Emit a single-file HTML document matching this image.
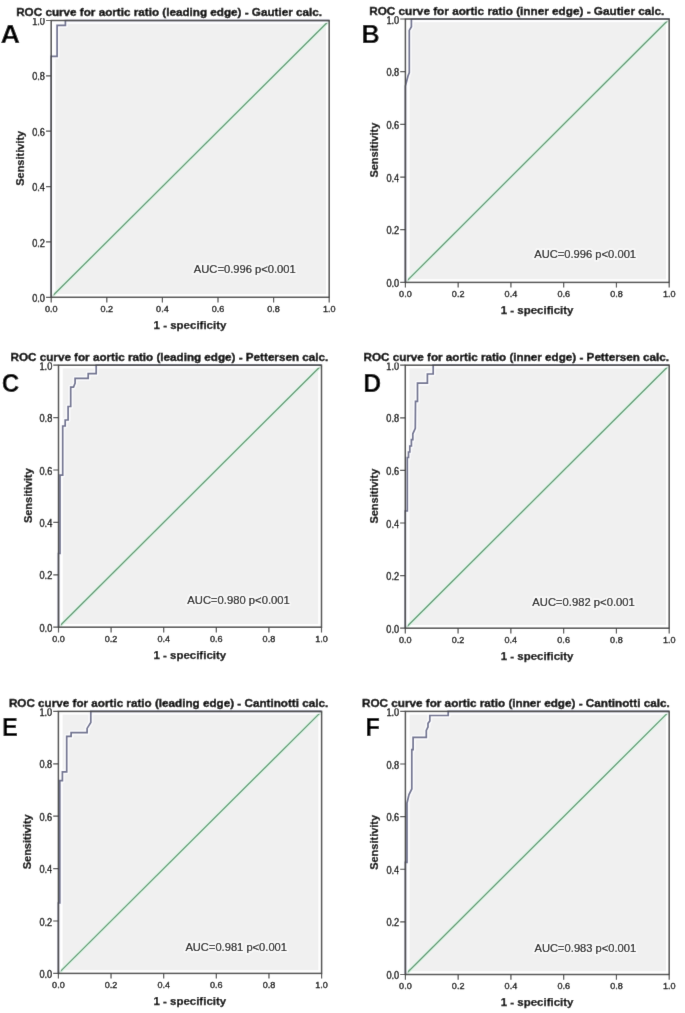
<!DOCTYPE html>
<html><head><meta charset="utf-8"><title>ROC curves</title>
<style>
html,body{margin:0;padding:0;background:#fff;}
body{width:685px;height:1013px;overflow:hidden;}
svg{display:block;font-family:"Liberation Sans", sans-serif;}
</style></head>
<body>
<svg width="685" height="1013" viewBox="0 0 685 1013" font-family='"Liberation Sans", sans-serif'>
<defs><filter id="soft" x="0" y="0" width="685" height="1013" filterUnits="userSpaceOnUse"><feConvolveMatrix order="3" kernelMatrix="0.00524 0.06192 0.00524 0.06192 0.73137 0.06192 0.00524 0.06192 0.00524" edgeMode="duplicate" preserveAlpha="true"/></filter></defs>
<g filter="url(#soft)">
<rect width="685" height="1013" fill="#fff"/>
<g>
<rect x="55.40" y="23.70" width="270.60" height="270.40" fill="#f0f0f0"/>
<line x1="51.20" y1="297.30" x2="329.20" y2="20.50" stroke="#dcf7e6" stroke-width="3.4"/>
<line x1="51.20" y1="297.30" x2="329.20" y2="20.50" stroke="#5e9470" stroke-width="1.25"/>
<polyline points="51.20,297.30 51.20,56.40 57.10,56.40 57.10,25.40 65.40,25.40 65.40,20.50 329.20,20.50" fill="none" stroke="#fbfbfe" stroke-width="5" stroke-linejoin="round" opacity="0.8"/>
<polyline points="51.20,297.30 51.20,56.40 57.10,56.40 57.10,25.40 65.40,25.40 65.40,20.50 329.20,20.50" fill="none" stroke="#6f7290" stroke-width="1.7" stroke-linejoin="miter"/>
<rect x="51.20" y="20.50" width="278.00" height="276.80" fill="none" stroke="#484848" stroke-width="1.5"/>
<path d="M46.00 297.30H51.20 M51.20 297.30V302.50 M46.00 241.94H51.20 M106.80 297.30V302.50 M46.00 186.58H51.20 M162.40 297.30V302.50 M46.00 131.22H51.20 M218.00 297.30V302.50 M46.00 75.86H51.20 M273.60 297.30V302.50 M46.00 20.50H51.20 M329.20 297.30V302.50" stroke="#484848" stroke-width="1.2" fill="none"/>
<g font-size="10" fill="#000" stroke="#000" stroke-width="0.35"><text x="45.00" y="301.90" text-anchor="end" textLength="12.8" lengthAdjust="spacingAndGlyphs">0.0</text><text x="44.90" y="312.00" font-size="9.4" stroke-width="0.35" textLength="12.6" lengthAdjust="spacingAndGlyphs">0.0</text><text x="45.00" y="246.54" text-anchor="end" textLength="12.8" lengthAdjust="spacingAndGlyphs">0.2</text><text x="100.50" y="312.00" font-size="9.4" stroke-width="0.35" textLength="12.6" lengthAdjust="spacingAndGlyphs">0.2</text><text x="45.00" y="191.18" text-anchor="end" textLength="12.8" lengthAdjust="spacingAndGlyphs">0.4</text><text x="156.10" y="312.00" font-size="9.4" stroke-width="0.35" textLength="12.6" lengthAdjust="spacingAndGlyphs">0.4</text><text x="45.00" y="135.82" text-anchor="end" textLength="12.8" lengthAdjust="spacingAndGlyphs">0.6</text><text x="211.70" y="312.00" font-size="9.4" stroke-width="0.35" textLength="12.6" lengthAdjust="spacingAndGlyphs">0.6</text><text x="45.00" y="80.46" text-anchor="end" textLength="12.8" lengthAdjust="spacingAndGlyphs">0.8</text><text x="267.30" y="312.00" font-size="9.4" stroke-width="0.35" textLength="12.6" lengthAdjust="spacingAndGlyphs">0.8</text><text x="45.00" y="25.10" text-anchor="end" textLength="12.8" lengthAdjust="spacingAndGlyphs">1.0</text><text x="322.90" y="312.00" font-size="9.4" stroke-width="0.35" textLength="12.6" lengthAdjust="spacingAndGlyphs">1.0</text></g>
<text x="153.60" y="328.60" font-size="11" font-weight="bold" stroke="#000" stroke-width="0.25" textLength="72.8" lengthAdjust="spacingAndGlyphs" fill="#000">1 - specificity</text>
<text transform="translate(24.20,185.80) rotate(-90)" x="0" y="0" font-size="11" font-weight="bold" stroke="#000" stroke-width="0.25" textLength="55" lengthAdjust="spacingAndGlyphs" fill="#000">Sensitivity</text>
<text x="193.80" y="273.10" font-size="11" textLength="101.90" lengthAdjust="spacingAndGlyphs" fill="#fbfbfb" stroke="#fbfbfb" stroke-width="4" stroke-linejoin="round" opacity="0.7">AUC=0.996 p&lt;0.001</text>
<text x="193.80" y="273.10" font-size="11" textLength="101.90" lengthAdjust="spacingAndGlyphs" fill="#000" stroke="#000" stroke-width="0.15">AUC=0.996 p&lt;0.001</text>
<rect x="15.00" y="6.40" width="309.00" height="11.60" fill="#fff"/>
<text x="16.20" y="16.40" font-size="11.2" font-weight="bold" stroke="#000" stroke-width="0.38" textLength="305.80" lengthAdjust="spacingAndGlyphs" fill="#000">ROC curve for aortic ratio (leading edge) - Gautier calc.</text>
<text transform="translate(0.42,42.80) scale(1.0311,1)" x="0" y="0" font-size="26.31" font-weight="bold" fill="#000">A</text>
</g>
<g>
<rect x="409.60" y="22.20" width="256.40" height="257.00" fill="#f0f0f0"/>
<line x1="405.40" y1="282.40" x2="669.20" y2="19.00" stroke="#dcf7e6" stroke-width="3.4"/>
<line x1="405.40" y1="282.40" x2="669.20" y2="19.00" stroke="#5e9470" stroke-width="1.25"/>
<polyline points="405.40,282.40 405.40,86.00 408.00,76.00 409.30,72.50 409.30,30.40 411.40,26.80 411.40,19.00 669.20,19.00" fill="none" stroke="#fbfbfe" stroke-width="5" stroke-linejoin="round" opacity="0.8"/>
<polyline points="405.40,282.40 405.40,86.00 408.00,76.00 409.30,72.50 409.30,30.40 411.40,26.80 411.40,19.00 669.20,19.00" fill="none" stroke="#6f7290" stroke-width="1.7" stroke-linejoin="miter"/>
<rect x="405.40" y="19.00" width="263.80" height="263.40" fill="none" stroke="#484848" stroke-width="1.5"/>
<path d="M400.20 282.40H405.40 M405.40 282.40V287.60 M400.20 229.72H405.40 M458.16 282.40V287.60 M400.20 177.04H405.40 M510.92 282.40V287.60 M400.20 124.36H405.40 M563.68 282.40V287.60 M400.20 71.68H405.40 M616.44 282.40V287.60 M400.20 19.00H405.40 M669.20 282.40V287.60" stroke="#484848" stroke-width="1.2" fill="none"/>
<g font-size="10" fill="#000" stroke="#000" stroke-width="0.35"><text x="399.20" y="287.00" text-anchor="end" textLength="12.8" lengthAdjust="spacingAndGlyphs">0.0</text><text x="399.10" y="297.10" font-size="9.4" stroke-width="0.35" textLength="12.6" lengthAdjust="spacingAndGlyphs">0.0</text><text x="399.20" y="234.32" text-anchor="end" textLength="12.8" lengthAdjust="spacingAndGlyphs">0.2</text><text x="451.86" y="297.10" font-size="9.4" stroke-width="0.35" textLength="12.6" lengthAdjust="spacingAndGlyphs">0.2</text><text x="399.20" y="181.64" text-anchor="end" textLength="12.8" lengthAdjust="spacingAndGlyphs">0.4</text><text x="504.62" y="297.10" font-size="9.4" stroke-width="0.35" textLength="12.6" lengthAdjust="spacingAndGlyphs">0.4</text><text x="399.20" y="128.96" text-anchor="end" textLength="12.8" lengthAdjust="spacingAndGlyphs">0.6</text><text x="557.38" y="297.10" font-size="9.4" stroke-width="0.35" textLength="12.6" lengthAdjust="spacingAndGlyphs">0.6</text><text x="399.20" y="76.28" text-anchor="end" textLength="12.8" lengthAdjust="spacingAndGlyphs">0.8</text><text x="610.14" y="297.10" font-size="9.4" stroke-width="0.35" textLength="12.6" lengthAdjust="spacingAndGlyphs">0.8</text><text x="399.20" y="23.60" text-anchor="end" textLength="12.8" lengthAdjust="spacingAndGlyphs">1.0</text><text x="662.90" y="297.10" font-size="9.4" stroke-width="0.35" textLength="12.6" lengthAdjust="spacingAndGlyphs">1.0</text></g>
<text x="500.70" y="313.70" font-size="11" font-weight="bold" stroke="#000" stroke-width="0.25" textLength="72.8" lengthAdjust="spacingAndGlyphs" fill="#000">1 - specificity</text>
<text transform="translate(378.40,177.60) rotate(-90)" x="0" y="0" font-size="11" font-weight="bold" stroke="#000" stroke-width="0.25" textLength="55" lengthAdjust="spacingAndGlyphs" fill="#000">Sensitivity</text>
<text x="534.20" y="257.50" font-size="11" textLength="101.90" lengthAdjust="spacingAndGlyphs" fill="#fbfbfb" stroke="#fbfbfb" stroke-width="4" stroke-linejoin="round" opacity="0.7">AUC=0.996 p&lt;0.001</text>
<text x="534.20" y="257.50" font-size="11" textLength="101.90" lengthAdjust="spacingAndGlyphs" fill="#000" stroke="#000" stroke-width="0.15">AUC=0.996 p&lt;0.001</text>
<rect x="368.00" y="4.60" width="298.40" height="11.60" fill="#fff"/>
<text x="369.20" y="14.60" font-size="11.2" font-weight="bold" stroke="#000" stroke-width="0.38" textLength="295.20" lengthAdjust="spacingAndGlyphs" fill="#000">ROC curve for aortic ratio (inner edge) - Gautier calc.</text>
<text transform="translate(361.51,42.80) scale(0.9652,1)" x="0" y="0" font-size="26.16" font-weight="bold" fill="#000">B</text>
</g>
<g>
<rect x="62.70" y="368.40" width="255.60" height="255.60" fill="#f0f0f0"/>
<line x1="58.50" y1="627.20" x2="321.50" y2="365.20" stroke="#dcf7e6" stroke-width="3.4"/>
<line x1="58.50" y1="627.20" x2="321.50" y2="365.20" stroke="#5e9470" stroke-width="1.25"/>
<polyline points="58.50,627.20 58.50,553.50 60.00,553.50 60.00,475.20 62.70,475.20 62.70,426.00 65.20,426.00 65.20,420.00 68.10,420.00 68.10,406.50 70.70,406.50 70.70,387.20 73.50,387.20 75.10,383.00 75.10,378.40 88.20,378.40 88.20,373.70 96.20,373.70 96.20,365.20 321.50,365.20" fill="none" stroke="#fbfbfe" stroke-width="5" stroke-linejoin="round" opacity="0.8"/>
<polyline points="58.50,627.20 58.50,553.50 60.00,553.50 60.00,475.20 62.70,475.20 62.70,426.00 65.20,426.00 65.20,420.00 68.10,420.00 68.10,406.50 70.70,406.50 70.70,387.20 73.50,387.20 75.10,383.00 75.10,378.40 88.20,378.40 88.20,373.70 96.20,373.70 96.20,365.20 321.50,365.20" fill="none" stroke="#6f7290" stroke-width="1.7" stroke-linejoin="miter"/>
<rect x="58.50" y="365.20" width="263.00" height="262.00" fill="none" stroke="#484848" stroke-width="1.5"/>
<path d="M53.30 627.20H58.50 M58.50 627.20V632.40 M53.30 574.80H58.50 M111.10 627.20V632.40 M53.30 522.40H58.50 M163.70 627.20V632.40 M53.30 470.00H58.50 M216.30 627.20V632.40 M53.30 417.60H58.50 M268.90 627.20V632.40 M53.30 365.20H58.50 M321.50 627.20V632.40" stroke="#484848" stroke-width="1.2" fill="none"/>
<g font-size="10" fill="#000" stroke="#000" stroke-width="0.35"><text x="52.30" y="631.80" text-anchor="end" textLength="12.8" lengthAdjust="spacingAndGlyphs">0.0</text><text x="52.20" y="641.90" font-size="9.4" stroke-width="0.35" textLength="12.6" lengthAdjust="spacingAndGlyphs">0.0</text><text x="52.30" y="579.40" text-anchor="end" textLength="12.8" lengthAdjust="spacingAndGlyphs">0.2</text><text x="104.80" y="641.90" font-size="9.4" stroke-width="0.35" textLength="12.6" lengthAdjust="spacingAndGlyphs">0.2</text><text x="52.30" y="527.00" text-anchor="end" textLength="12.8" lengthAdjust="spacingAndGlyphs">0.4</text><text x="157.40" y="641.90" font-size="9.4" stroke-width="0.35" textLength="12.6" lengthAdjust="spacingAndGlyphs">0.4</text><text x="52.30" y="474.60" text-anchor="end" textLength="12.8" lengthAdjust="spacingAndGlyphs">0.6</text><text x="210.00" y="641.90" font-size="9.4" stroke-width="0.35" textLength="12.6" lengthAdjust="spacingAndGlyphs">0.6</text><text x="52.30" y="422.20" text-anchor="end" textLength="12.8" lengthAdjust="spacingAndGlyphs">0.8</text><text x="262.60" y="641.90" font-size="9.4" stroke-width="0.35" textLength="12.6" lengthAdjust="spacingAndGlyphs">0.8</text><text x="52.30" y="369.80" text-anchor="end" textLength="12.8" lengthAdjust="spacingAndGlyphs">1.0</text><text x="315.20" y="641.90" font-size="9.4" stroke-width="0.35" textLength="12.6" lengthAdjust="spacingAndGlyphs">1.0</text></g>
<text x="153.40" y="658.50" font-size="11" font-weight="bold" stroke="#000" stroke-width="0.25" textLength="72.8" lengthAdjust="spacingAndGlyphs" fill="#000">1 - specificity</text>
<text transform="translate(31.50,523.10) rotate(-90)" x="0" y="0" font-size="11" font-weight="bold" stroke="#000" stroke-width="0.25" textLength="55" lengthAdjust="spacingAndGlyphs" fill="#000">Sensitivity</text>
<text x="187.30" y="603.50" font-size="11" textLength="102.50" lengthAdjust="spacingAndGlyphs" fill="#fbfbfb" stroke="#fbfbfb" stroke-width="4" stroke-linejoin="round" opacity="0.7">AUC=0.980 p&lt;0.001</text>
<text x="187.30" y="603.50" font-size="11" textLength="102.50" lengthAdjust="spacingAndGlyphs" fill="#000" stroke="#000" stroke-width="0.15">AUC=0.980 p&lt;0.001</text>
<rect x="9.40" y="350.80" width="320.80" height="11.60" fill="#fff"/>
<text x="10.60" y="360.80" font-size="11.2" font-weight="bold" stroke="#000" stroke-width="0.38" textLength="317.60" lengthAdjust="spacingAndGlyphs" fill="#000">ROC curve for aortic ratio (leading edge) - Pettersen calc.</text>
<text transform="translate(1.85,391.74) scale(0.9212,1)" x="0" y="0" font-size="26.48" font-weight="bold" fill="#000">C</text>
</g>
<g>
<rect x="409.50" y="368.40" width="256.50" height="256.60" fill="#f0f0f0"/>
<line x1="405.30" y1="628.20" x2="669.20" y2="365.20" stroke="#dcf7e6" stroke-width="3.4"/>
<line x1="405.30" y1="628.20" x2="669.20" y2="365.20" stroke="#5e9470" stroke-width="1.25"/>
<polyline points="405.30,628.20 405.30,511.00 407.30,511.00 407.30,457.50 408.50,457.50 408.50,452.00 409.80,452.00 409.80,446.00 411.40,446.00 411.40,439.70 412.80,439.70 412.80,433.80 415.30,428.40 415.50,401.40 417.50,401.40 417.50,383.20 427.40,383.20 427.40,374.00 433.20,374.00 433.20,365.20 669.20,365.20" fill="none" stroke="#fbfbfe" stroke-width="5" stroke-linejoin="round" opacity="0.8"/>
<polyline points="405.30,628.20 405.30,511.00 407.30,511.00 407.30,457.50 408.50,457.50 408.50,452.00 409.80,452.00 409.80,446.00 411.40,446.00 411.40,439.70 412.80,439.70 412.80,433.80 415.30,428.40 415.50,401.40 417.50,401.40 417.50,383.20 427.40,383.20 427.40,374.00 433.20,374.00 433.20,365.20 669.20,365.20" fill="none" stroke="#6f7290" stroke-width="1.7" stroke-linejoin="miter"/>
<rect x="405.30" y="365.20" width="263.90" height="263.00" fill="none" stroke="#484848" stroke-width="1.5"/>
<path d="M400.10 628.20H405.30 M405.30 628.20V633.40 M400.10 575.60H405.30 M458.08 628.20V633.40 M400.10 523.00H405.30 M510.86 628.20V633.40 M400.10 470.40H405.30 M563.64 628.20V633.40 M400.10 417.80H405.30 M616.42 628.20V633.40 M400.10 365.20H405.30 M669.20 628.20V633.40" stroke="#484848" stroke-width="1.2" fill="none"/>
<g font-size="10" fill="#000" stroke="#000" stroke-width="0.35"><text x="399.10" y="632.80" text-anchor="end" textLength="12.8" lengthAdjust="spacingAndGlyphs">0.0</text><text x="399.00" y="642.90" font-size="9.4" stroke-width="0.35" textLength="12.6" lengthAdjust="spacingAndGlyphs">0.0</text><text x="399.10" y="580.20" text-anchor="end" textLength="12.8" lengthAdjust="spacingAndGlyphs">0.2</text><text x="451.78" y="642.90" font-size="9.4" stroke-width="0.35" textLength="12.6" lengthAdjust="spacingAndGlyphs">0.2</text><text x="399.10" y="527.60" text-anchor="end" textLength="12.8" lengthAdjust="spacingAndGlyphs">0.4</text><text x="504.56" y="642.90" font-size="9.4" stroke-width="0.35" textLength="12.6" lengthAdjust="spacingAndGlyphs">0.4</text><text x="399.10" y="475.00" text-anchor="end" textLength="12.8" lengthAdjust="spacingAndGlyphs">0.6</text><text x="557.34" y="642.90" font-size="9.4" stroke-width="0.35" textLength="12.6" lengthAdjust="spacingAndGlyphs">0.6</text><text x="399.10" y="422.40" text-anchor="end" textLength="12.8" lengthAdjust="spacingAndGlyphs">0.8</text><text x="610.12" y="642.90" font-size="9.4" stroke-width="0.35" textLength="12.6" lengthAdjust="spacingAndGlyphs">0.8</text><text x="399.10" y="369.80" text-anchor="end" textLength="12.8" lengthAdjust="spacingAndGlyphs">1.0</text><text x="662.90" y="642.90" font-size="9.4" stroke-width="0.35" textLength="12.6" lengthAdjust="spacingAndGlyphs">1.0</text></g>
<text x="500.65" y="659.50" font-size="11" font-weight="bold" stroke="#000" stroke-width="0.25" textLength="72.8" lengthAdjust="spacingAndGlyphs" fill="#000">1 - specificity</text>
<text transform="translate(378.30,523.60) rotate(-90)" x="0" y="0" font-size="11" font-weight="bold" stroke="#000" stroke-width="0.25" textLength="55" lengthAdjust="spacingAndGlyphs" fill="#000">Sensitivity</text>
<text x="532.30" y="605.80" font-size="11" textLength="102.50" lengthAdjust="spacingAndGlyphs" fill="#fbfbfb" stroke="#fbfbfb" stroke-width="4" stroke-linejoin="round" opacity="0.7">AUC=0.982 p&lt;0.001</text>
<text x="532.30" y="605.80" font-size="11" textLength="102.50" lengthAdjust="spacingAndGlyphs" fill="#000" stroke="#000" stroke-width="0.15">AUC=0.982 p&lt;0.001</text>
<rect x="362.30" y="351.00" width="308.70" height="11.60" fill="#fff"/>
<text x="363.50" y="361.00" font-size="11.2" font-weight="bold" stroke="#000" stroke-width="0.38" textLength="305.50" lengthAdjust="spacingAndGlyphs" fill="#000">ROC curve for aortic ratio (inner edge) - Pettersen calc.</text>
<text transform="translate(363.33,391.90) scale(0.9535,1)" x="0" y="0" font-size="26.16" font-weight="bold" fill="#000">D</text>
</g>
<g>
<rect x="62.60" y="714.60" width="255.80" height="255.60" fill="#f0f0f0"/>
<line x1="58.40" y1="973.40" x2="321.60" y2="711.40" stroke="#dcf7e6" stroke-width="3.4"/>
<line x1="58.40" y1="973.40" x2="321.60" y2="711.40" stroke="#5e9470" stroke-width="1.25"/>
<polyline points="58.40,973.40 58.40,903.00 59.80,903.00 59.80,780.70 62.40,780.70 62.40,771.80 66.70,771.80 66.70,736.40 71.10,736.40 71.10,732.70 87.10,732.70 87.10,728.40 90.80,722.50 90.80,711.40 321.60,711.40" fill="none" stroke="#fbfbfe" stroke-width="5" stroke-linejoin="round" opacity="0.8"/>
<polyline points="58.40,973.40 58.40,903.00 59.80,903.00 59.80,780.70 62.40,780.70 62.40,771.80 66.70,771.80 66.70,736.40 71.10,736.40 71.10,732.70 87.10,732.70 87.10,728.40 90.80,722.50 90.80,711.40 321.60,711.40" fill="none" stroke="#6f7290" stroke-width="1.7" stroke-linejoin="miter"/>
<rect x="58.40" y="711.40" width="263.20" height="262.00" fill="none" stroke="#484848" stroke-width="1.5"/>
<path d="M53.20 973.40H58.40 M58.40 973.40V978.60 M53.20 921.00H58.40 M111.04 973.40V978.60 M53.20 868.60H58.40 M163.68 973.40V978.60 M53.20 816.20H58.40 M216.32 973.40V978.60 M53.20 763.80H58.40 M268.96 973.40V978.60 M53.20 711.40H58.40 M321.60 973.40V978.60" stroke="#484848" stroke-width="1.2" fill="none"/>
<g font-size="10" fill="#000" stroke="#000" stroke-width="0.35"><text x="52.20" y="978.00" text-anchor="end" textLength="12.8" lengthAdjust="spacingAndGlyphs">0.0</text><text x="52.10" y="988.10" font-size="9.4" stroke-width="0.35" textLength="12.6" lengthAdjust="spacingAndGlyphs">0.0</text><text x="52.20" y="925.60" text-anchor="end" textLength="12.8" lengthAdjust="spacingAndGlyphs">0.2</text><text x="104.74" y="988.10" font-size="9.4" stroke-width="0.35" textLength="12.6" lengthAdjust="spacingAndGlyphs">0.2</text><text x="52.20" y="873.20" text-anchor="end" textLength="12.8" lengthAdjust="spacingAndGlyphs">0.4</text><text x="157.38" y="988.10" font-size="9.4" stroke-width="0.35" textLength="12.6" lengthAdjust="spacingAndGlyphs">0.4</text><text x="52.20" y="820.80" text-anchor="end" textLength="12.8" lengthAdjust="spacingAndGlyphs">0.6</text><text x="210.02" y="988.10" font-size="9.4" stroke-width="0.35" textLength="12.6" lengthAdjust="spacingAndGlyphs">0.6</text><text x="52.20" y="768.40" text-anchor="end" textLength="12.8" lengthAdjust="spacingAndGlyphs">0.8</text><text x="262.66" y="988.10" font-size="9.4" stroke-width="0.35" textLength="12.6" lengthAdjust="spacingAndGlyphs">0.8</text><text x="52.20" y="716.00" text-anchor="end" textLength="12.8" lengthAdjust="spacingAndGlyphs">1.0</text><text x="315.30" y="988.10" font-size="9.4" stroke-width="0.35" textLength="12.6" lengthAdjust="spacingAndGlyphs">1.0</text></g>
<text x="153.40" y="1004.70" font-size="11" font-weight="bold" stroke="#000" stroke-width="0.25" textLength="72.8" lengthAdjust="spacingAndGlyphs" fill="#000">1 - specificity</text>
<text transform="translate(31.40,869.30) rotate(-90)" x="0" y="0" font-size="11" font-weight="bold" stroke="#000" stroke-width="0.25" textLength="55" lengthAdjust="spacingAndGlyphs" fill="#000">Sensitivity</text>
<text x="185.40" y="951.30" font-size="11" textLength="101.60" lengthAdjust="spacingAndGlyphs" fill="#fbfbfb" stroke="#fbfbfb" stroke-width="4" stroke-linejoin="round" opacity="0.7">AUC=0.981 p&lt;0.001</text>
<text x="185.40" y="951.30" font-size="11" textLength="101.60" lengthAdjust="spacingAndGlyphs" fill="#000" stroke="#000" stroke-width="0.15">AUC=0.981 p&lt;0.001</text>
<rect x="7.70" y="696.80" width="322.50" height="11.60" fill="#fff"/>
<text x="8.90" y="706.80" font-size="11.2" font-weight="bold" stroke="#000" stroke-width="0.38" textLength="319.30" lengthAdjust="spacingAndGlyphs" fill="#000">ROC curve for aortic ratio (leading edge) - Cantinotti calc.</text>
<text transform="translate(2.00,736.00) scale(0.9180,1)" x="0" y="0" font-size="26.02" font-weight="bold" fill="#000">E</text>
</g>
<g>
<rect x="409.60" y="714.60" width="256.40" height="256.70" fill="#f0f0f0"/>
<line x1="405.40" y1="974.50" x2="669.20" y2="711.40" stroke="#dcf7e6" stroke-width="3.4"/>
<line x1="405.40" y1="974.50" x2="669.20" y2="711.40" stroke="#5e9470" stroke-width="1.25"/>
<polyline points="405.40,974.50 405.40,862.30 407.00,862.30 407.00,803.00 409.00,794.60 411.80,789.00 411.80,749.70 413.10,749.70 413.10,737.40 426.30,737.40 426.30,730.40 428.00,727.00 428.00,723.40 429.80,721.00 429.80,715.50 448.20,715.50 448.20,711.40 669.20,711.40" fill="none" stroke="#fbfbfe" stroke-width="5" stroke-linejoin="round" opacity="0.8"/>
<polyline points="405.40,974.50 405.40,862.30 407.00,862.30 407.00,803.00 409.00,794.60 411.80,789.00 411.80,749.70 413.10,749.70 413.10,737.40 426.30,737.40 426.30,730.40 428.00,727.00 428.00,723.40 429.80,721.00 429.80,715.50 448.20,715.50 448.20,711.40 669.20,711.40" fill="none" stroke="#6f7290" stroke-width="1.7" stroke-linejoin="miter"/>
<rect x="405.40" y="711.40" width="263.80" height="263.10" fill="none" stroke="#484848" stroke-width="1.5"/>
<path d="M400.20 974.50H405.40 M405.40 974.50V979.70 M400.20 921.88H405.40 M458.16 974.50V979.70 M400.20 869.26H405.40 M510.92 974.50V979.70 M400.20 816.64H405.40 M563.68 974.50V979.70 M400.20 764.02H405.40 M616.44 974.50V979.70 M400.20 711.40H405.40 M669.20 974.50V979.70" stroke="#484848" stroke-width="1.2" fill="none"/>
<g font-size="10" fill="#000" stroke="#000" stroke-width="0.35"><text x="399.20" y="979.10" text-anchor="end" textLength="12.8" lengthAdjust="spacingAndGlyphs">0.0</text><text x="399.10" y="989.20" font-size="9.4" stroke-width="0.35" textLength="12.6" lengthAdjust="spacingAndGlyphs">0.0</text><text x="399.20" y="926.48" text-anchor="end" textLength="12.8" lengthAdjust="spacingAndGlyphs">0.2</text><text x="451.86" y="989.20" font-size="9.4" stroke-width="0.35" textLength="12.6" lengthAdjust="spacingAndGlyphs">0.2</text><text x="399.20" y="873.86" text-anchor="end" textLength="12.8" lengthAdjust="spacingAndGlyphs">0.4</text><text x="504.62" y="989.20" font-size="9.4" stroke-width="0.35" textLength="12.6" lengthAdjust="spacingAndGlyphs">0.4</text><text x="399.20" y="821.24" text-anchor="end" textLength="12.8" lengthAdjust="spacingAndGlyphs">0.6</text><text x="557.38" y="989.20" font-size="9.4" stroke-width="0.35" textLength="12.6" lengthAdjust="spacingAndGlyphs">0.6</text><text x="399.20" y="768.62" text-anchor="end" textLength="12.8" lengthAdjust="spacingAndGlyphs">0.8</text><text x="610.14" y="989.20" font-size="9.4" stroke-width="0.35" textLength="12.6" lengthAdjust="spacingAndGlyphs">0.8</text><text x="399.20" y="716.00" text-anchor="end" textLength="12.8" lengthAdjust="spacingAndGlyphs">1.0</text><text x="662.90" y="989.20" font-size="9.4" stroke-width="0.35" textLength="12.6" lengthAdjust="spacingAndGlyphs">1.0</text></g>
<text x="500.70" y="1005.80" font-size="11" font-weight="bold" stroke="#000" stroke-width="0.25" textLength="72.8" lengthAdjust="spacingAndGlyphs" fill="#000">1 - specificity</text>
<text transform="translate(378.40,869.85) rotate(-90)" x="0" y="0" font-size="11" font-weight="bold" stroke="#000" stroke-width="0.25" textLength="55" lengthAdjust="spacingAndGlyphs" fill="#000">Sensitivity</text>
<text x="534.60" y="952.30" font-size="11" textLength="101.50" lengthAdjust="spacingAndGlyphs" fill="#fbfbfb" stroke="#fbfbfb" stroke-width="4" stroke-linejoin="round" opacity="0.7">AUC=0.983 p&lt;0.001</text>
<text x="534.60" y="952.30" font-size="11" textLength="101.50" lengthAdjust="spacingAndGlyphs" fill="#000" stroke="#000" stroke-width="0.15">AUC=0.983 p&lt;0.001</text>
<rect x="360.80" y="696.80" width="310.90" height="11.60" fill="#fff"/>
<text x="362.00" y="706.80" font-size="11.2" font-weight="bold" stroke="#000" stroke-width="0.38" textLength="307.70" lengthAdjust="spacingAndGlyphs" fill="#000">ROC curve for aortic ratio (inner edge) - Cantinotti calc.</text>
<text transform="translate(365.42,736.10) scale(0.9041,1)" x="0" y="0" font-size="26.16" font-weight="bold" fill="#000">F</text>
</g>
</g>
</svg>
</body></html>
